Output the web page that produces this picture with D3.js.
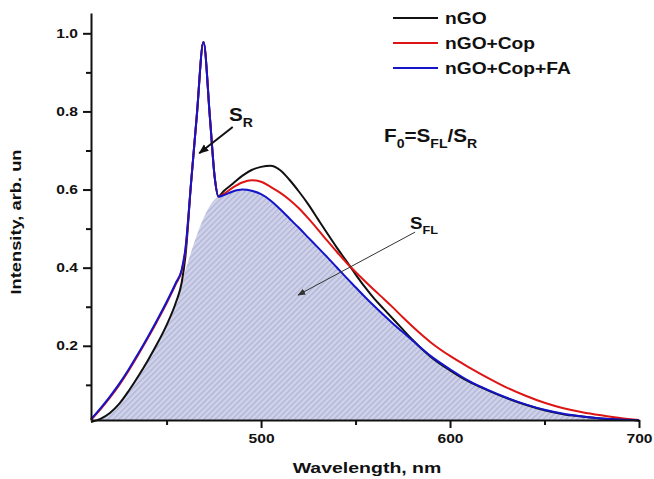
<!DOCTYPE html>
<html><head><meta charset="utf-8">
<script src="https://cdn.jsdelivr.net/npm/d3@7"></script>
<style>
body{margin:0;background:#fff}
svg{display:block}
text{font-family:"Liberation Sans",Arial,sans-serif;font-weight:bold;fill:#111}
</style>
</head><body>
<svg id="c" width="654" height="479"></svg>
<script>
// ---- data ----
const wavelength = [410,415,420,425,430,435,440,445,450,455,458,460,463,466,469.5,473,475.5,477.5,
  480,485,490,495,500,505,510,515,520,525,530,535,540,545,550,555,560,565,570,575,580,
  590,600,610,620,630,640,650,660,670,680,690,700];
const nGO = [0.005,0.013,0.028,0.052,0.085,0.122,0.162,0.205,0.253,0.312,0.362,0.43,0.62,0.79,0.978,0.78,0.63,0.582,
  0.595,0.615,0.635,0.650,0.658,0.661,0.650,0.625,0.595,0.562,0.525,0.488,0.452,0.418,0.383,0.350,0.320,0.294,0.268,0.242,0.216,
  0.171,0.137,0.108,0.086,0.066,0.049,0.035,0.025,0.019,0.014,0.011,0.009];
const nGOCop = [0.010,0.037,0.067,0.100,0.137,0.177,0.219,0.263,0.309,0.359,0.392,0.445,0.62,0.79,0.978,0.78,0.63,0.582,
  0.588,0.605,0.618,0.624,0.620,0.607,0.592,0.574,0.552,0.526,0.498,0.469,0.441,0.414,0.389,0.365,0.342,0.320,0.297,0.273,0.250,
  0.208,0.174,0.145,0.118,0.093,0.072,0.054,0.040,0.030,0.022,0.015,0.010];
const nGOCopFA = [0.012,0.040,0.070,0.103,0.140,0.180,0.222,0.266,0.312,0.362,0.395,0.45,0.62,0.79,0.978,0.78,0.63,0.582,
  0.585,0.595,0.600,0.597,0.588,0.572,0.550,0.526,0.502,0.477,0.452,0.427,0.401,0.375,0.350,0.325,0.301,0.278,0.256,0.235,0.214,
  0.173,0.140,0.110,0.087,0.067,0.050,0.036,0.026,0.019,0.014,0.011,0.009];
const seriesNames = ["nGO","nGO+Cop","nGO+Cop+FA"];
const seriesColors = ["#111111","#dd1515","#1414c8"];
const xTicks = [500,600,700];
const xMinor = [450,550,650];
const yTicks = [0.2,0.4,0.6,0.8,1.0];
const yMinor = [0.1,0.3,0.5,0.7,0.9];
const ramanEnd = 458, ramanStart = 477.5; // S_FL area excludes the Raman peak

// ---- chart ----
const svg = d3.select("#c");
const x = d3.scaleLinear().domain([410,700]).range([91,639]);
const y = d3.scaleLinear().domain([0.01,1.052]).range([420,13]);

const defs = svg.append("defs");
const pat = defs.append("pattern").attr("id","hatch").attr("patternUnits","userSpaceOnUse")
  .attr("width",4).attr("height",4).attr("patternTransform","rotate(45)");
pat.append("rect").attr("width",4).attr("height",4).attr("fill","#d0d2e9");
pat.append("rect").attr("width",1.3).attr("height",4).attr("fill","#b0b4d6");
const mk = (id,size,col)=>defs.append("marker").attr("id",id).attr("viewBox","0 0 10 10")
  .attr("refX",9).attr("refY",5).attr("markerWidth",size).attr("markerHeight",size)
  .attr("markerUnits","userSpaceOnUse").attr("orient","auto")
  .append("path").attr("d","M0,1 L10,5 L0,9 Z").attr("fill",col);
mk("arrR",10,"#111"); mk("arrF",8,"#333");

const series = [nGO,nGOCop,nGOCopFA].map((vals,i)=>({name:seriesNames[i],color:seriesColors[i],
  pts:wavelength.map((w,j)=>[w,vals[j]])}));

// fill area: under nGO up to Raman start, then under nGO+Cop+FA after Raman
const fillPts = wavelength.map((w,j)=>[w,nGO[j]]).filter(d=>d[0]<=ramanEnd)
  .concat(wavelength.map((w,j)=>[w,nGOCopFA[j]]).filter(d=>d[0]>=ramanStart));
svg.append("path").datum(fillPts)
  .attr("d",d3.area().x(d=>x(d[0])).y0(y(0.01)).y1(d=>y(d[1])).curve(d3.curveMonotoneX))
  .attr("fill","url(#hatch)");

const line = d3.line().x(d=>x(d[0])).y(d=>y(d[1])).curve(d3.curveMonotoneX);
svg.selectAll("path.s").data(series).enter().append("path").attr("class","s")
  .attr("d",d=>line(d.pts)).attr("fill","none").attr("stroke",d=>d.color)
  .attr("stroke-width",2).attr("stroke-linejoin","round");

// axes
const styleAxis = g=>{g.selectAll("path,line").attr("stroke","#111").attr("stroke-width",2);};
const gy = svg.append("g").attr("transform","translate(91,0)")
  .call(d3.axisLeft(y).tickValues(yTicks).tickSize(8).tickSizeOuter(0).tickFormat(d3.format(".1f")));
gy.call(styleAxis);
gy.selectAll("text").attr("x",0).attr("transform","translate(-13,0) scale(1.2,1)")
  .style("font-size","13px").attr("fill","#111");
svg.append("g").attr("transform","translate(91,0)")
  .call(d3.axisLeft(y).tickValues(yMinor).tickSize(5).tickSizeOuter(0).tickFormat(""))
  .call(styleAxis).select(".domain").remove();

const gx = svg.append("g").attr("transform","translate(0,420)")
  .call(d3.axisBottom(x).tickValues(xTicks).tickSize(8).tickSizeOuter(0));
gx.call(styleAxis);
gx.selectAll(".tick text").attr("x",0).attr("y",14).attr("transform","scale(1.2,1)")
  .style("font-size","13px").attr("fill","#111");
svg.append("g").attr("transform","translate(0,420)")
  .call(d3.axisBottom(x).tickValues(xMinor).tickSize(5).tickSizeOuter(0).tickFormat(""))
  .call(styleAxis).select(".domain").remove();

// axis titles
svg.append("text").attr("transform","translate(21,222) rotate(-90) scale(1.22,1)")
  .attr("text-anchor","middle").style("font-size","15px").text("Intensity, arb. un");
svg.append("text").attr("transform","translate(367,473) scale(1.3,1)")
  .attr("text-anchor","middle").style("font-size","15px").text("Wavelength, nm");

// legend
const lg = svg.append("g");
series.forEach((s,i)=>{
  const yy = 18 + i*25;
  lg.append("line").attr("x1",393).attr("x2",438).attr("y1",yy).attr("y2",yy)
    .attr("stroke",s.color).attr("stroke-width",2);
  lg.append("text").attr("transform",`translate(445,${yy+6}) scale(1.2,1)`)
    .style("font-size","16px").text(s.name);
});

// annotations
function subText(px,py,parts,size,sx){
  const t = svg.append("text").attr("transform",`translate(${px},${py}) scale(${sx},1)`).style("font-size",size+"px");
  let low=false;
  parts.forEach(([s,sub])=>{
    const ts=t.append("tspan").text(s);
    if(sub && !low){ts.attr("dy",size*0.32).style("font-size",(size*0.68)+"px");low=true;}
    else if(sub){ts.style("font-size",(size*0.68)+"px");}
    else if(!sub && low){ts.attr("dy",-size*0.32);low=false;}
  });
  return t;
}
// S_R arrow and label
svg.append("line").attr("x1",x(485)).attr("y1",y(0.76)).attr("x2",x(467.3)).attr("y2",y(0.693))
  .attr("stroke","#111").attr("stroke-width",2).attr("marker-end","url(#arrR)");
subText(229,121,[["S",false],["R",true]],18,1.15);
// S_FL arrow and label
svg.append("line").attr("x1",x(581.5)).attr("y1",y(0.491)).attr("x2",x(519.6)).attr("y2",y(0.33))
  .attr("stroke","#333").attr("stroke-width",1).attr("marker-end","url(#arrF)");
subText(410,229,[["S",false],["FL",true]],17,1.1);
// formula
subText(384,142,[["F",false],["0",true],["=S",false],["FL",true],["/S",false],["R",true]],18,1.15);
</script>
</body></html>
